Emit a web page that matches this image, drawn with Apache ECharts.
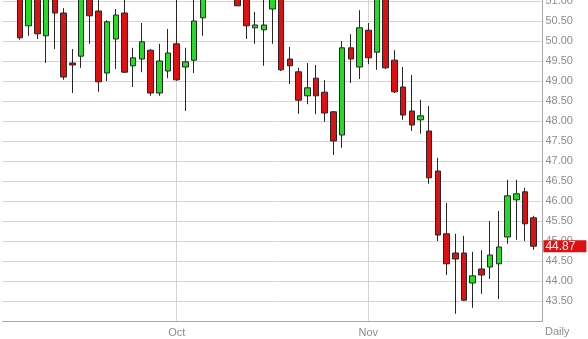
<!DOCTYPE html>
<html>
<head>
<meta charset="utf-8">
<script src="https://cdn.jsdelivr.net/npm/echarts@6/dist/echarts.min.js"></script>
<style>
html,body{margin:0;padding:0;background:#fff;}
#chart{width:588px;height:339px;}
</style>
</head>
<body>
<div id="chart"></div>
<script>
const dates = [
  '2015-09-07','2015-09-08','2015-09-09','2015-09-10','2015-09-11','2015-09-14','2015-09-15','2015-09-16','2015-09-17','2015-09-18',
  '2015-09-21','2015-09-22','2015-09-23','2015-09-24','2015-09-25','2015-09-28','2015-09-29','2015-09-30',
  '2015-10-01','2015-10-02','2015-10-05','2015-10-06','2015-10-07','2015-10-08','2015-10-09','2015-10-12','2015-10-13','2015-10-14',
  '2015-10-15','2015-10-16','2015-10-19','2015-10-20','2015-10-21','2015-10-22','2015-10-23','2015-10-26','2015-10-27','2015-10-28',
  '2015-10-29','2015-10-30',
  '2015-11-02','2015-11-03','2015-11-04','2015-11-05','2015-11-06','2015-11-09','2015-11-10','2015-11-11','2015-11-12','2015-11-13',
  '2015-11-16','2015-11-17','2015-11-18','2015-11-19','2015-11-20','2015-11-23','2015-11-24','2015-11-25','2015-11-26','2015-11-27'
];
const opens = [
  51.35, 50.38, 51.30, 50.13, 51.35, 50.70, 49.45, 49.62, 51.30, 50.75,
  49.20, 50.05, 50.70, 49.38, 49.55, 49.77, 48.70, 49.25,
  49.93, 49.35, 49.52, 50.58, 51.30, 51.80, 51.60, 51.15, 51.10, 50.33,
  50.28, 50.80, 51.45, 49.55, 49.23, 48.63, 49.07, 48.72, 48.23, 47.65,
  49.83, 49.35,
  50.27, 49.72, 51.40, 49.52, 48.85, 48.25, 48.03, 47.75, 46.75, 45.18,
  44.70, 44.70, 43.95, 44.30, 44.35, 44.43, 45.10, 46.03, 46.23, 45.58
];
const closes = [
  50.08, 51.45, 50.18, 51.20, 50.70, 49.10, 49.40, 51.25, 50.63, 48.98,
  50.48, 50.65, 49.22, 49.58, 49.98, 48.70, 49.50, 49.70,
  49.03, 49.48, 50.50, 51.30, 51.80, 51.60, 51.90, 50.88, 50.38, 50.40,
  50.40, 51.40, 49.28, 49.38, 48.52, 48.83, 48.63, 48.20, 47.50, 49.83,
  49.55, 50.33,
  49.58, 51.35, 49.33, 48.73, 48.15, 47.90, 48.13, 46.58, 45.15, 44.43,
  44.55, 43.52, 44.13, 44.15, 44.65, 44.85, 46.13, 46.18, 45.43, 44.87
];
const lows = [
  50.03, 50.13, 50.05, 49.45, 49.80, 49.03, 48.70, 49.33, 49.93, 48.73,
  49.00, 49.30, 49.20, 48.85, 49.22, 48.63, 48.63, 49.07,
  49.00, 48.25, 49.20, 50.13, 51.10, 51.30, 51.40, 50.88, 50.05, 49.93,
  49.38, 49.93, 49.25, 48.92, 48.18, 48.42, 48.17, 47.98, 47.15, 47.33,
  48.95, 49.05,
  49.42, 49.28, 49.30, 48.70, 48.03, 47.75, 47.68, 46.43, 45.00, 44.15,
  43.18, 43.50, 43.33, 43.68, 44.05, 43.55, 44.93, 45.03, 45.00, 44.78
];
const highs = [
  51.50, 51.60, 51.50, 51.40, 51.55, 50.82, 49.80, 51.45, 51.50, 51.02,
  50.52, 50.80, 51.10, 49.83, 50.45, 49.80, 49.93, 50.30,
  51.15, 49.83, 51.05, 51.50, 52.00, 52.10, 52.20, 51.40, 51.30, 50.73,
  51.10, 51.60, 51.60, 49.85, 49.33, 49.45, 49.40, 49.02, 48.25, 50.00,
  50.17, 50.77,
  50.45, 51.50, 51.60, 49.77, 49.35, 49.15, 48.53, 48.38, 47.08, 45.95,
  45.18, 45.13, 44.73, 44.77, 45.50, 45.75, 46.53, 46.53, 46.33, 45.63
];
const monthNames = ['Jan','Feb','Mar','Apr','May','Jun','Jul','Aug','Sep','Oct','Nov','Dec'];
const yTickStep = 0.5;
const lastClose = closes[closes.length - 1];

const LEAD = 2;
const axisCats = ['pad0', 'pad1'].concat(dates, ['pad2']);
const candleData = dates.map((d, i) => [i + LEAD, opens[i], closes[i], lows[i], highs[i]]);
const monthStarts = [];
for (let i = 1; i < dates.length; i++) {
  if (dates[i].slice(5, 7) !== dates[i - 1].slice(5, 7)) monthStarts.push(i + LEAD);
}
const isMonthStart = (idx) => monthStarts.indexOf(idx) >= 0;

const chart = echarts.init(document.getElementById('chart'), null, {renderer: 'canvas'});
chart.setOption({
  animation: false,
  backgroundColor: '#ffffff',
  textStyle: {fontFamily: 'Liberation Sans, Arial, sans-serif'},
  title: {
    text: 'Daily', left: 545, top: 326, padding: 0,
    textStyle: {fontSize: 11, fontWeight: 'normal', color: '#8c8c8c', fontFamily: 'Liberation Sans, Arial, sans-serif'}
  },
  grid: {left: 2.6, right: 45.6, top: -39, bottom: 18, containLabel: false, outerBoundsMode: 'none'},
  xAxis: {
    type: 'category',
    data: axisCats,
    boundaryGap: false,
    axisLine: {show: true, lineStyle: {color: '#a8a8a8', width: 1}},
    axisTick: {show: false},
    axisLabel: {
      interval: (idx) => isMonthStart(idx),
      formatter: (v) => monthNames[parseInt(v.slice(5, 7), 10) - 1],
      color: '#8c8c8c', fontSize: 11, margin: 6
    },
    splitLine: {show: true, interval: (idx) => isMonthStart(idx), lineStyle: {color: '#d4d4d4', width: 1}}
  },
  yAxis: {
    type: 'value',
    position: 'right',
    min: 43, max: 52, interval: yTickStep,
    axisLine: {show: true, lineStyle: {color: '#a8a8a8', width: 1}},
    axisTick: {show: false},
    axisLabel: {
      formatter: (v) => v.toFixed(2), color: '#8c8c8c', fontSize: 11, margin: 3,
      showMinLabel: false, showMaxLabel: false
    },
    splitLine: {show: true, lineStyle: {color: '#d4d4d4', width: 1}}
  },
  series: [{
    type: 'candlestick',
    data: candleData,
    encode: {x: 0, y: [1, 2, 3, 4]},
    barWidth: 6,
    itemStyle: {
      color: '#22dd22', color0: '#dd1111',
      borderColor: '#262626', borderColor0: '#262626', borderColorDoji: '#262626',
      borderWidth: 1
    },
    markLine: {
      silent: true,
      symbol: ['none', 'none'],
      lineStyle: {color: 'rgba(0,0,0,0)', width: 1, type: 'solid'},
      data: [{yAxis: lastClose}],
      label: {
        show: true, position: 'end', distance: 1,
        formatter: lastClose.toFixed(2),
        color: '#ffffff', backgroundColor: '#e01010',
        fontSize: 12, padding: [0, 11, 0, 2]
      }
    }
  }]
});
</script>
</body>
</html>
